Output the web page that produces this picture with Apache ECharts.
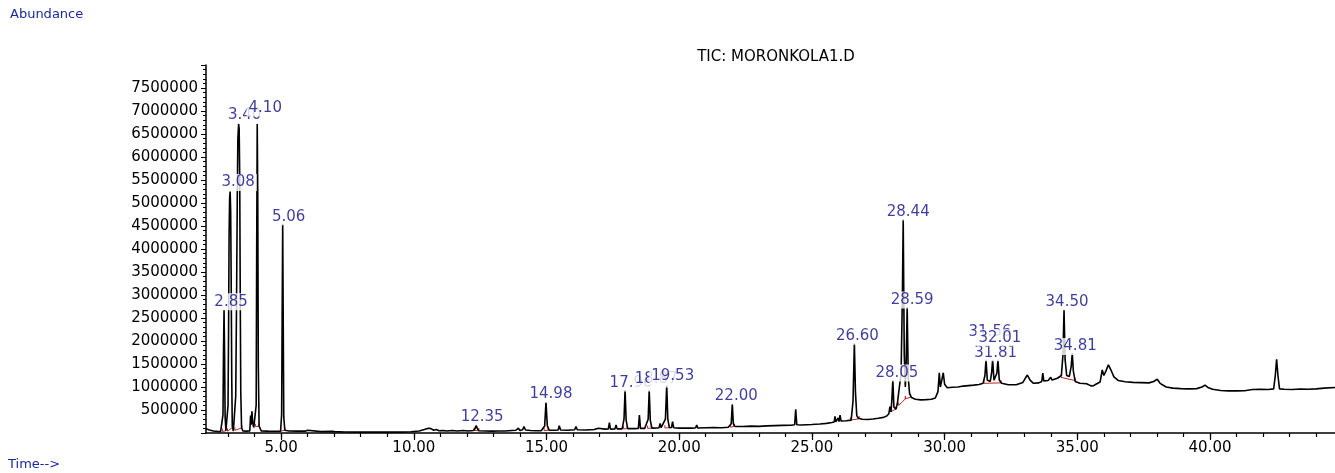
<!DOCTYPE html>
<html>
<head>
<meta charset="utf-8">
<script src="https://cdn.jsdelivr.net/npm/echarts@6/dist/echarts.min.js"></script>
<style>
html,body{margin:0;padding:0;background:#fff;}
#chart{width:1335px;height:473px;}
</style>
</head>
<body>
<div id="chart"></div>
<script>
// Retention time (min) and abundance
const times = [
2.17,2.30,2.45,2.60,2.72,2.78,2.81,2.83,2.85,2.87,2.89,2.92,2.97,3.00,3.02,3.04,3.06,3.08,3.10,3.12,3.14,3.16,3.20,
3.26,3.29,3.32,3.35,3.37,3.40,3.42,3.44,3.46,3.48,3.51,3.56,3.70,3.82,3.85,3.87,3.90,3.93,3.97,4.02,4.06,4.08,4.10,
4.12,4.14,4.17,4.25,4.50,4.80,4.98,5.02,5.04,5.06,5.08,5.10,5.14,5.30,
5.60,5.90,6.00,6.02,6.05,6.50,6.93,6.97,7.02,7.40,8.00,8.50,8.76,8.79,8.83,9.00,9.03,9.07,9.50,9.90,10.20,10.40,
10.55,10.65,10.75,10.85,10.95,11.10,11.25,11.45,11.65,11.85,11.96,12.00,12.05,12.25,12.31,12.35,12.39,12.45,12.70,
12.95,13.20,13.45,13.70,13.85,13.94,14.00,14.10,14.15,14.21,14.40,14.60,14.80,14.93,14.98,15.03,15.10,
15.30,15.44,15.48,15.53,15.80,16.06,16.11,16.16,16.50,16.80,16.95,17.00,17.20,17.33,17.37,17.41,17.58,17.62,17.66,
17.85,17.92,17.96,18.00,18.06,18.30,18.46,18.50,18.54,18.70,18.83,18.87,18.91,18.97,19.15,19.24,19.28,19.32,19.48,
19.53,19.57,19.63,19.71,19.75,19.79,20.00,20.30,20.50,20.62,20.66,20.70,21.00,21.30,21.60,21.85,21.96,22.00,22.04,
22.10,22.40,22.70,23.00,23.30,23.60,23.90,24.20,24.35,24.39,24.43,24.60,24.80,25.00,
25.30,25.55,25.75,25.84,25.87,25.90,25.96,25.99,26.02,26.06,26.10,26.30,26.48,26.55,26.60,26.64,26.69,26.75,26.90,
27.10,27.30,27.50,27.70,27.82,27.90,27.94,27.98,28.01,28.05,28.09,28.17,28.22,28.27,28.36,28.41,28.44,28.48,28.52,
28.55,28.59,28.63,28.68,28.75,28.90,29.10,29.30,29.50,29.65,29.75,29.80,29.84,29.90,29.95,30.00,
30.10,30.30,30.50,30.70,30.90,31.10,31.30,31.45,31.52,31.56,31.61,31.72,31.77,31.81,31.86,31.93,31.97,32.01,32.06,
32.15,32.40,32.70,32.95,33.05,33.12,33.22,33.35,33.55,33.66,33.70,33.74,33.90,33.96,34.00,34.05,34.25,34.40,34.46,
34.50,34.54,34.60,34.70,34.77,34.81,34.85,34.92,35.10,35.35,35.50,35.58,35.70,35.86,35.94,36.00,36.08,36.17,36.26,
36.38,36.55,36.80,37.10,37.40,37.70,37.88,38.01,38.12,38.35,38.60,38.90,39.20,39.50,39.70,39.81,39.92,40.10,40.40,
40.70,41.00,41.30,41.60,41.90,42.20,42.40,42.46,42.51,42.56,42.62,42.80,43.10,43.40,43.70,44.00,44.30,44.71
];
const abundance = [
90000,65000,45000,35000,30000,32000,400000,1800000,2680000,1700000,350000,50000,40000,600000,2200000,4300000,5100000,5250000,4800000,3200000,1200000,150000,40000,
60000,800000,2800000,5200000,6400000,6720000,6600000,5600000,3000000,900000,120000,45000,40000,45000,380000,180000,470000,220000,120000,140000,600000,4000000,6720000,
5200000,1500000,150000,45000,40000,38000,40000,400000,2600000,4550000,2400000,350000,60000,45000,
40000,40000,60000,85000,40000,30000,35000,72000,30000,22000,18000,20000,20000,40000,20000,22000,45000,22000,20000,28000,45000,75000,
105000,95000,60000,75000,50000,55000,45000,55000,45000,55000,50000,75000,45000,55000,100000,175000,100000,50000,45000,
40000,45000,42000,55000,60000,105000,55000,70000,140000,65000,55000,50000,50000,150000,670000,160000,60000,
60000,65000,160000,65000,60000,70000,140000,70000,65000,75000,105000,75000,85000,90000,225000,85000,90000,175000,90000,
90000,300000,935000,280000,95000,95000,100000,390000,100000,100000,300000,935000,280000,105000,110000,115000,210000,115000,300000,
1040000,300000,115000,120000,245000,115000,105000,110000,105000,115000,175000,110000,115000,120000,115000,125000,200000,630000,200000,
145000,140000,150000,145000,155000,160000,165000,170000,180000,515000,180000,175000,180000,185000,
195000,210000,230000,240000,360000,240000,250000,330000,250000,390000,260000,265000,280000,700000,1950000,900000,380000,320000,300000,
295000,305000,320000,340000,370000,420000,575000,460000,700000,1150000,560000,520000,640000,600000,1300000,3000000,4650000,1700000,1000000,
1500000,2740000,1200000,860000,770000,735000,720000,725000,735000,760000,900000,1310000,1000000,1020000,1310000,1060000,
985000,995000,1000000,1020000,1030000,1040000,1055000,1080000,1250000,1590000,1150000,1120000,1300000,1590000,1150000,1120000,1300000,1590000,1150000,
1080000,1050000,1050000,1100000,1200000,1260000,1150000,1080000,1090000,1120000,1300000,1130000,1140000,1150000,1210000,1150000,1190000,1250000,1700000,
2680000,1600000,1250000,1230000,1450000,1730000,1350000,1120000,1080000,1070000,1030000,1020000,1060000,1110000,1370000,1250000,1350000,1480000,1380000,
1220000,1140000,1115000,1100000,1095000,1090000,1120000,1170000,1080000,1000000,975000,965000,960000,965000,1000000,1040000,990000,950000,925000,
915000,915000,920000,945000,950000,945000,960000,1250000,1600000,1250000,960000,950000,945000,955000,950000,960000,975000,990000
];

// Labelled peaks: retention time and apex abundance
const peakTimes = [2.85,3.08,3.40,4.10,5.06,12.35,14.98,17.96,18.87,19.53,22.00,26.60,28.05,28.44,28.59,31.56,31.81,32.01,34.50,34.81];
const peakApex  = [2680000,5250000,6720000,6720000,4550000,175000,670000,935000,935000,1040000,630000,1950000,1150000,4650000,2740000,1590000,1590000,1590000,2680000,1730000];

// Integration baselines: [startTime, startAbundance, endTime, endAbundance]
const integrations = [
  [2.79,32000,2.92,50000],[2.98,40000,3.17,120000],[3.26,60000,3.52,110000],[4.03,140000,4.17,150000],
  [4.98,40000,5.14,60000],[12.27,55000,12.45,50000],[14.91,50000,15.06,60000],[17.90,90000,18.04,95000],
  [18.81,100000,18.95,105000],[19.46,110000,19.62,115000],[21.94,125000,22.07,145000],[26.45,280000,26.78,310000],
  [27.97,460000,28.16,520000],[28.27,600000,28.52,740000],[28.52,740000,28.72,780000],[31.48,1080000,32.12,1090000],
  [34.38,1210000,34.92,1140000]
];

// Axis ticks
const xMinorTicks = [3,4,5,6,7,8,9,10,11,12,13,14,15,16,17,18,19,20,21,22,23,24,25,26,27,28,29,30,31,32,33,34,35,36,37,38,39,40,41,42,43,44];
const xMajorTicks = [5,10,15,20,25,30,35,40];

// label placement (style only): pixel offsets of each peak label from its apex
const labelOffsets = [[7,-8],[8,-9],[6,-9],[8,-16],[6,-7],[6,-8],[5,-8],[6,-7],[7,-11],[6,-9],[4,-8],[3,-7],[4,-7],[5,-7],[5,-7],[4,-28],[3,-7],[2,-22],[3,-8],[3,-7]];

const FONT = 'DejaVu Sans';
const LABEL_BLUE = '#0c0c84';
const TICK = 60000;

const chart = echarts.init(document.getElementById('chart'), null, {renderer: 'canvas'});

const lineData = times.map((t, i) => [t, abundance[i]]);
const labelData = peakTimes.map((t, i) => ({
  value: [t, peakApex[i]],
  label: {offset: labelOffsets[i]}
}));
const integData = integrations.map(s => ({
  coords: [[s[0], s[1] + TICK], [s[0], s[1]], [s[2], s[3]], [s[2], s[3] + TICK]]
}));

const option = {
  animation: false,
  backgroundColor: '#ffffff',
  grid: {left: 206, right: 0, top: 65, bottom: 40, containLabel: false},
  xAxis: [
    {
      type: 'value', min: 2.17, max: 44.71, position: 'bottom',
      axisLine: {show: true, lineStyle: {color: '#000', width: 1.5}},
      axisTick: {show: true, customValues: xMinorTicks, length: 4, lineStyle: {color: '#000', width: 1.2}},
      axisLabel: {show: false},
      splitLine: {show: false}
    },
    {
      type: 'value', min: 2.17, max: 44.71, position: 'bottom',
      axisLine: {show: false},
      axisTick: {show: true, customValues: xMajorTicks, length: 7, lineStyle: {color: '#000', width: 1.2}},
      axisLabel: {show: true, customValues: xMajorTicks, formatter: v => v.toFixed(2), margin: 8,
                  color: '#000', fontFamily: FONT, fontSize: 15},
      splitLine: {show: false}
    }
  ],
  yAxis: {
    type: 'value', min: 0, max: 8000000, interval: 500000,
    axisLine: {show: true, lineStyle: {color: '#000', width: 1.5}},
    axisTick: {show: true, length: 5, lineStyle: {color: '#000', width: 1}},
    minorTick: {show: true, splitNumber: 5, length: 3, lineStyle: {color: '#000', width: 1}},
    axisLabel: {formatter: v => (v === 0 || v === 8000000) ? '' : String(v), margin: 8,
                color: '#000', fontFamily: FONT, fontSize: 15},
    splitLine: {show: false}
  },
  graphic: [
    {type: 'text', x: 776, y: 57, style: {text: 'TIC: MORONKOLA1.D', fill: '#000', font: '15px "DejaVu Sans"', align: 'center', verticalAlign: 'middle'}},
    {type: 'text', x: 10, y: 15, style: {text: 'Abundance', fill: '#1a2a9c', font: '13px "DejaVu Sans"', align: 'left', verticalAlign: 'middle'}},
    {type: 'text', x: 8, y: 465, style: {text: 'Time-->', fill: '#1a2a9c', font: '13px "DejaVu Sans"', align: 'left', verticalAlign: 'middle'}}
  ],
  series: [
    {
      type: 'lines', coordinateSystem: 'cartesian2d', polyline: true, silent: true, z: 1,
      lineStyle: {color: '#b8281e', width: 1, opacity: 1},
      data: integData
    },
    {
      type: 'line', data: lineData, showSymbol: false, symbol: 'none', z: 2,
      lineStyle: {color: '#000', width: 1.6}, silent: true
    },
    {
      type: 'scatter', data: labelData, symbolSize: 0, z: 5, silent: true,
      label: {
        show: true, position: 'inside',
        formatter: p => peakTimes[p.dataIndex].toFixed(2),
        color: LABEL_BLUE, fontFamily: FONT, fontSize: 15,
        backgroundColor: '#fff', padding: [1, 2]
      }
    }
  ]
};
chart.setOption(option);
</script>
</body>
</html>
